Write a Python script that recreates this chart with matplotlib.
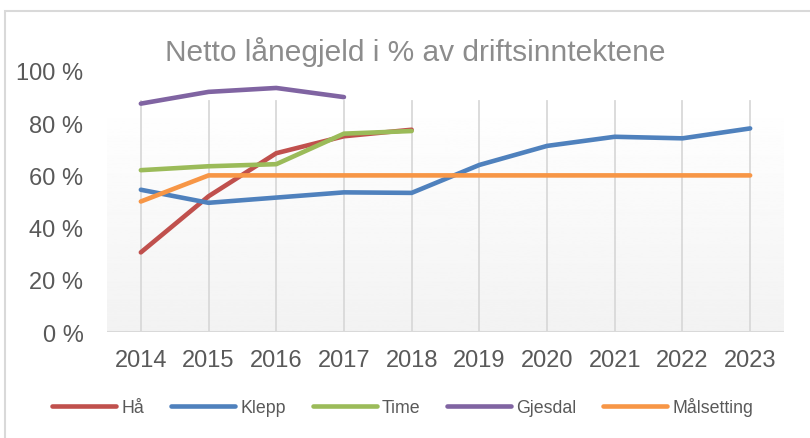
import numpy as np
import matplotlib.pyplot as plt
from matplotlib.patches import Rectangle

plt.rcParams['font.family'] = ['Liberation Sans', 'DejaVu Sans']

# data (percent)
years = ['2014', '2015', '2016', '2017', '2018', '2019', '2020', '2021', '2022', '2023']
ha = [30.5, 52, 68.5, 75, 77.5]
klepp = [54.5, 49.5, 51.5, 53.5, 53.3, 64, 71.3, 74.8, 74.2, 78]
time_ = [62, 63.5, 64.3, 76, 77]
gjesdal = [87.5, 92, 93.5, 90]
maal = [50, 60, 60, 60, 60, 60, 60, 60, 60, 60]

series = [('Hå', ha, '#C0504D'),
          ('Klepp', klepp, '#4F81BD'),
          ('Time', time_, '#9BBB59'),
          ('Gjesdal', gjesdal, '#8064A2'),
          ('Målsetting', maal, '#F79646')]

fig = plt.figure(figsize=(8.1, 4.39), dpi=100)
ax = fig.add_axes([107/810, 1 - 333/439, (784 - 107)/810, (333 - 72)/439])
ax.set_xlim(-0.5, len(years) - 0.5)
ax.set_ylim(0, 100)

# gradient fill of the plot area
top = 88.5
grad = np.linspace(0.95, 1.0, 256).reshape(-1, 1)
ax.imshow(grad, extent=(-0.5, len(years) - 0.5, 0, top), aspect='auto',
          cmap='gray', vmin=0, vmax=1, origin='lower', zorder=0)

x = np.arange(len(years))
for xi in x:
    ax.plot([xi, xi], [0, top], color='#d9d9d9', lw=1.3, zorder=1)
ax.axhline(0, color='#d9d9d9', lw=1.5, zorder=1)

for name, vals, col in series:
    ax.plot(x[:len(vals)], vals, color=col, lw=3.3, label=name,
            solid_capstyle='round', zorder=3)

for s in ax.spines.values():
    s.set_visible(False)
ax.set_xticks(x)
ax.set_xticklabels(years)
ax.set_yticks(range(0, 101, 20))
ax.set_yticklabels([f'{v} %' for v in range(0, 101, 20)])
ax.tick_params(length=0, labelsize=17, colors='#595959')
ax.tick_params(axis='x', pad=12)
ax.tick_params(axis='y', pad=17)

fig.text(415/810, 1 - 52/439, 'Netto lånegjeld i % av driftsinntektene',
         ha='center', va='center', fontsize=21.5, color='#8c8c8c')

fig.legend(loc='center', bbox_to_anchor=(403/810, 1 - 408/439), ncol=5,
           frameon=False, fontsize=12.8, handlelength=3.6, handletextpad=0.3,
           columnspacing=1.5, labelcolor='#595959')

fig.patches.append(Rectangle((5/810, -0.2), 1.5, 1.2 - 12/439, transform=fig.transFigure,
                             fill=False, edgecolor='#d9d9d9', lw=1.5))

fig.savefig('out.png', dpi=100)
